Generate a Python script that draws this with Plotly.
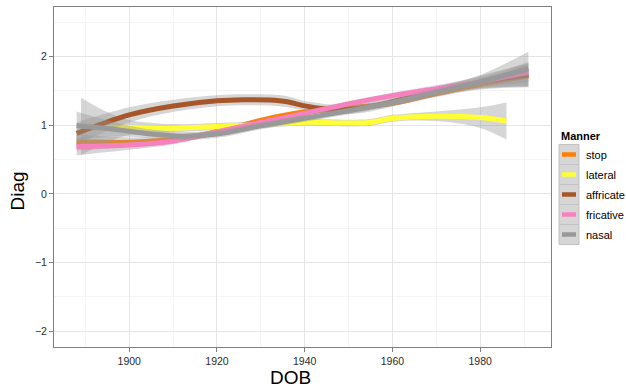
import plotly.graph_objects as go

# ---- data ----
manners = ["stop", "lateral", "affricate", "fricative", "nasal"]
colors = {"stop": "#FF7F00", "lateral": "#FFFF33", "affricate": "#A65628",
          "fricative": "#F781BF", "nasal": "#999999"}

stop_x = [1888, 1900, 1910, 1920, 1930, 1940, 1950, 1960, 1970, 1980, 1991]
stop_y = [0.75, 0.75, 0.79, 0.90, 1.07, 1.19, 1.25, 1.32, 1.46, 1.59, 1.72]
stop_se = [0.12, 0.07, 0.05, 0.04, 0.04, 0.04, 0.04, 0.04, 0.05, 0.07, 0.17]

lateral_x = [1889, 1895, 1900, 1910, 1920, 1930, 1940, 1950, 1955, 1960, 1970, 1980, 1986]
lateral_y = [0.98, 0.97, 0.965, 0.955, 0.98, 1.01, 1.04, 1.03, 1.04, 1.10, 1.13, 1.11, 1.06]
lateral_se = [0.42, 0.22, 0.11, 0.06, 0.05, 0.05, 0.05, 0.05, 0.05, 0.05, 0.07, 0.15, 0.27]

affricate_x = [1888, 1900, 1910, 1920, 1926, 1932, 1936, 1940, 1945, 1950, 1955, 1960, 1970, 1980, 1991]
affricate_y = [0.88, 1.15, 1.28, 1.355, 1.37, 1.365, 1.34, 1.28, 1.235, 1.23, 1.27, 1.34, 1.49, 1.63, 1.73]
affricate_se = [0.16, 0.11, 0.09, 0.08, 0.08, 0.08, 0.08, 0.07, 0.07, 0.07, 0.07, 0.07, 0.07, 0.09, 0.17]

fricative_x = [1888, 1900, 1910, 1920, 1930, 1940, 1950, 1960, 1970, 1980, 1991]
fricative_y = [0.69, 0.71, 0.77, 0.90, 1.04, 1.17, 1.31, 1.43, 1.53, 1.63, 1.77]
fricative_se = [0.13, 0.07, 0.05, 0.04, 0.04, 0.04, 0.04, 0.04, 0.05, 0.07, 0.15]

nasal_x = [1888, 1895, 1900, 1905, 1912, 1920, 1930, 1940, 1950, 1960, 1970, 1980, 1991]
nasal_y = [0.99, 0.95, 0.91, 0.87, 0.84, 0.87, 0.99, 1.10, 1.21, 1.33, 1.48, 1.63, 1.82]
nasal_se = [0.21, 0.12, 0.08, 0.065, 0.06, 0.055, 0.05, 0.05, 0.05, 0.05, 0.06, 0.10, 0.25]

series = {
    "stop": (stop_x, stop_y, stop_se),
    "lateral": (lateral_x, lateral_y, lateral_se),
    "affricate": (affricate_x, affricate_y, affricate_se),
    "fricative": (fricative_x, fricative_y, fricative_se),
    "nasal": (nasal_x, nasal_y, nasal_se),
}

x_ticks = [1900, 1920, 1940, 1960, 1980]
y_ticks = [-2, -1, 0, 1, 2]

ribbon_fill = "rgba(153,153,153,0.4)"
FONT = "Liberation Sans, Arial, sans-serif"

fig = go.Figure()
for m in manners:
    xs, ys, se = series[m]
    lo = [y - s for y, s in zip(ys, se)]
    hi = [y + s for y, s in zip(ys, se)]
    fig.add_trace(go.Scatter(x=xs, y=lo, mode="lines", line=dict(width=0, shape="spline"),
                             showlegend=False, hoverinfo="skip"))
    fig.add_trace(go.Scatter(x=xs, y=hi, mode="lines", line=dict(width=0, shape="spline"),
                             fill="tonexty", fillcolor=ribbon_fill,
                             showlegend=False, hoverinfo="skip"))
    fig.add_trace(go.Scatter(x=xs, y=ys, mode="lines", name=m,
                             line=dict(color=colors[m], width=5, shape="spline"),
                             showlegend=False))

# panel geometry in pixels
L, R, T, B = 54, 551, 7, 347
W, H = 626, 388


def px(xp):
    return (xp - L) / (R - L)


def py(yp):
    return (B - yp) / (B - T)


shapes = []
annotations = []
# manual legend (ggplot style)
annotations.append(dict(text="<b>Manner</b>", x=px(559), y=py(135.5), xref="paper", yref="paper",
                        xanchor="left", yanchor="middle", showarrow=False,
                        font=dict(size=11, color="black", family=FONT)))
for i, m in enumerate(manners):
    cy = 154.5 + 20 * i
    shapes.append(dict(type="rect", xref="paper", yref="paper",
                       x0=px(559), x1=px(579), y0=py(cy - 10), y1=py(cy + 10),
                       fillcolor="#d6d6d6", line=dict(color="#c2c2c2", width=1), layer="above"))
    shapes.append(dict(type="line", xref="paper", yref="paper",
                       x0=px(562), x1=px(576), y0=py(cy), y1=py(cy),
                       line=dict(color=colors[m], width=4.5), layer="above"))
    annotations.append(dict(text=m, x=px(584), y=py(cy), xref="paper", yref="paper",
                            xanchor="left", yanchor="middle", showarrow=False,
                            font=dict(size=11, color="black", family=FONT)))

# axis titles
annotations.append(dict(text="DOB", x=px(290), y=py(378), xref="paper", yref="paper",
                        xanchor="center", yanchor="middle", showarrow=False,
                        font=dict(size=19, color="black", family=FONT)))
annotations.append(dict(text="Diag", x=px(16.5), y=py(191), xref="paper", yref="paper",
                        xanchor="center", yanchor="middle", showarrow=False, textangle=-90,
                        font=dict(size=19, color="black", family=FONT)))

fig.update_layout(
    width=W, height=H,
    margin=dict(l=L, r=W - R, t=T, b=H - B),
    paper_bgcolor="white", plot_bgcolor="white",
    font=dict(family=FONT),
    shapes=shapes, annotations=annotations,
    showlegend=False,
)
axis_common = dict(showline=True, mirror=True, linecolor="#7f7f7f", linewidth=1,
                   gridcolor="#e5e5e5", gridwidth=1, zeroline=False,
                   ticks="outside", ticklen=4, tickcolor="#7f7f7f",
                   tickfont=dict(size=10.5, color="#2b2b2b", family=FONT))
fig.update_xaxes(range=[1882.85, 1996.15], tickvals=x_ticks,
                 minor=dict(tickvals=[1890, 1910, 1930, 1950, 1970, 1990], showgrid=True,
                            gridcolor="#f5f5f5", ticks=""),
                 **axis_common)
fig.update_yaxes(range=[-2.23, 2.72], tickvals=y_ticks,
                 ticktext=["\u22122", "\u22121", "0", "1", "2"],
                 minor=dict(tickvals=[-1.5, -0.5, 0.5, 1.5, 2.5], showgrid=True,
                            gridcolor="#f5f5f5", ticks=""),
                 **axis_common)

fig.write_html("out.html")
